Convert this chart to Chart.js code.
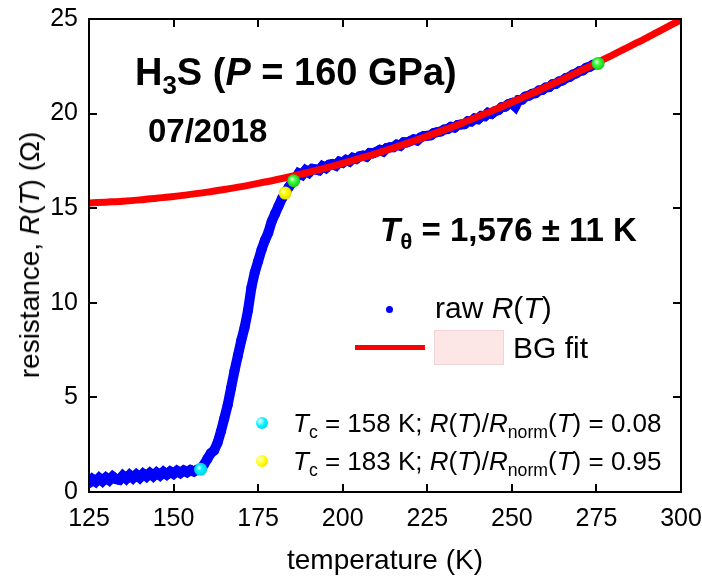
<!DOCTYPE html>
<html>
<head>
<meta charset="utf-8">
<script src="https://cdn.jsdelivr.net/npm/chart.js@4.4.1/dist/chart.umd.min.js"></script>
<style>
  body { margin: 0; background: #fff; }
  #wrap { position: relative; width: 702px; height: 581px; font-family: 'Liberation Sans', Arial, sans-serif; color: #000; }
  #wrap canvas { position: absolute; left: 0; top: 0; }
  .lbl { position: absolute; white-space: nowrap; line-height: 1; }
  .bold { font-weight: bold; }
  sub { font-size: 0.68em; vertical-align: -0.35em; line-height: 0; }
  .ball { position: absolute; border-radius: 50%; }
</style>
</head>
<body>
<div id="wrap">
  <canvas id="rtChart" width="702" height="581"></canvas>

  <div class="lbl bold" style="left:135px; top:53px; font-size:38px;">H<sub>3</sub>S (<i>P</i> = 160 GPa)</div>
  <div class="lbl bold" style="left:148px; top:114px; font-size:33px;">07/2018</div>
  <div class="lbl bold" style="left:380px; top:213px; font-size:33px;"><i>T</i><sub>θ</sub> = 1,576 ± 11 K</div>

  <!-- legend: raw data / fit -->
  <div class="ball" style="left:386px; top:306px; width:7px; height:7px; background:#0000ff;"></div>
  <div class="lbl" style="left:435px; top:293px; font-size:30px;">raw <i>R</i>(<i>T</i>)</div>
  <div style="position:absolute; left:355px; top:345px; width:70px; height:5px; background:#ff0000;"></div>
  <div style="position:absolute; left:434px; top:330px; width:68px; height:33px; background:#fde6e6; border:1px solid #f3d4d4;"></div>
  <div class="lbl" style="left:513px; top:333px; font-size:30px;">BG fit</div>

  <!-- legend: Tc markers -->
  <div class="ball" style="left:256px; top:417px; width:12px; height:12px; background:radial-gradient(circle at 35% 35%, #e8ffff, #00f0ff 45%, #00c8e0);"></div>
  <div class="lbl" style="left:293px; top:410px; font-size:26px;"><i>T</i><sub>c</sub> = 158 K; <i>R</i>(<i>T</i>)/<i>R</i><sub>norm</sub>(<i>T</i>) = 0.08</div>
  <div class="ball" style="left:256px; top:455px; width:12px; height:12px; background:radial-gradient(circle at 35% 35%, #ffffe0, #ffff00 45%, #e0d800);"></div>
  <div class="lbl" style="left:293px; top:448px; font-size:26px;"><i>T</i><sub>c</sub> = 183 K; <i>R</i>(<i>T</i>)/<i>R</i><sub>norm</sub>(<i>T</i>) = 0.95</div>

  <!-- axis titles -->
  <div class="lbl" style="left:385px; top:546px; font-size:28px; transform:translateX(-50%);">temperature (K)</div>
  <div class="lbl" style="left:30px; top:255px; font-size:28px; transform:translate(-50%,-50%) rotate(-90deg);">resistance, <i>R</i>(<i>T</i>) (Ω)</div>
</div>

<script>
// Raw R(T) data (K, Ohm)
const rawT = [
  125,126,127,128,129,130,131,132,133,134,135,136,137,138,139,140,141,142,143,144,
  145,146,147,148,149,150,151,152,153,154,155,156,157,158,
  159,160,161,162,163,164,165,166,167,168,169,170,171,172,173,174,175,176,177,178,
  179,180,181,182,183,184,185,186,
  187,188,189,190,191,192,193,194,195,196,197,198,199,200,201,202,203,204,205,206,
  207,208,209,210,211,212,213,214,215,216,217,218,219,220,221,222,223,224,225,226,
  227,228,229,230,231,232,233,234,235,236,237,238,239,240,241,242,243,244,245,246,
  247,248,249,250,251,252,253,254,255,256,257,258,259,260,261,262,263,264,265,266,
  267,268,269,270,271,272,273,274,275
];
const rawR = [
  0.46,0.68,0.54,0.74,0.58,0.76,0.62,0.82,0.68,0.64,0.86,0.70,0.90,0.74,0.92,0.76,0.96,0.82,1.00,0.84,
  1.02,0.88,1.06,0.92,1.08,0.96,1.12,1.00,1.14,1.04,1.16,1.08,1.18,1.20,
  1.45,1.75,2.05,2.20,2.60,3.20,3.90,4.60,5.50,6.40,7.20,8.00,8.70,9.60,10.8,11.6,12.2,12.8,13.3,13.7,
  14.3,14.7,15.1,15.5,15.8,16.1,16.35,16.55,
  16.85,16.76,17.00,16.88,17.08,17.05,17.00,17.22,17.12,17.30,17.34,17.25,17.46,17.40,17.55,17.47,17.66,17.60,17.74,17.78,
  17.72,17.92,17.90,17.98,18.08,18.00,18.18,18.22,18.22,18.36,18.30,18.48,18.47,18.55,18.64,18.58,18.74,18.82,18.83,18.85,
  18.98,19.02,19.05,19.16,19.18,19.30,19.26,19.40,19.42,19.44,19.60,19.58,19.74,19.70,19.88,19.86,20.04,19.98,20.12,20.18,
  20.34,20.36,20.50,20.56,20.38,20.72,20.74,20.90,20.94,21.05,21.08,21.22,21.25,21.38,21.40,21.55,21.57,21.70,21.75,21.88,
  21.93,22.06,22.12,22.24,22.28,22.42,22.47,22.58,22.62
];

// Bloch-Grüneisen fit curve
const fitT = [125,130,135,140,145,150,155,160,165,170,175,180,185,190,195,200,205,210,215,220,
              225,230,235,240,245,250,255,260,265,270,275,280,285,290,295,300];
const fitR = [15.27,15.32,15.37,15.44,15.53,15.62,15.73,15.85,15.99,16.14,16.31,16.49,16.69,16.90,17.13,17.37,17.63,17.90,18.19,18.49,
              18.81,19.14,19.48,19.84,20.21,20.60,20.99,21.40,21.81,22.24,22.67,23.12,23.57,24.02,24.49,24.96];

// Marked points
const tcLowPoint  = [{ x: 158, y: 1.2 }];
const tcHighPoint = [{ x: 183, y: 15.8 }];
const fitRangePoints = [{ x: 185.5, y: 16.45 }, { x: 275.5, y: 22.65 }];

// Axis ticks
const xTicks = [125, 150, 175, 200, 225, 250, 275, 300];
const yTicks = [0, 5, 10, 15, 20, 25];

const FONT = "'Liberation Sans', Arial, sans-serif";

// shaded ball look for the marker points
function ballColor(edge, mid) {
  return function(context) {
    const chart = context.chart;
    const p = context.raw;
    if (!p || !chart.chartArea) return mid;
    const x = chart.scales.x.getPixelForValue(p.x);
    const y = chart.scales.y.getPixelForValue(p.y);
    const g = chart.ctx.createRadialGradient(x - 2, y - 2, 0, x, y, 7);
    g.addColorStop(0, '#ffffff');
    g.addColorStop(0.4, mid);
    g.addColorStop(1, edge);
    return g;
  };
}

// Frame with inward ticks on all four sides
const framePlugin = {
  id: 'frame',
  afterDraw(chart) {
    const { ctx, chartArea: a, scales } = chart;
    const len = 8;
    ctx.save();
    ctx.strokeStyle = '#000';
    ctx.lineWidth = 2;
    ctx.beginPath();
    xTicks.slice(1, -1).forEach(v => {
      const x = Math.round(scales.x.getPixelForValue(v));
      ctx.moveTo(x, a.bottom); ctx.lineTo(x, a.bottom - len);
      ctx.moveTo(x, a.top); ctx.lineTo(x, a.top + len);
    });
    yTicks.slice(1, -1).forEach(v => {
      const y = Math.round(scales.y.getPixelForValue(v));
      ctx.moveTo(a.left, y); ctx.lineTo(a.left + len, y);
      ctx.moveTo(a.right, y); ctx.lineTo(a.right - len, y);
    });
    ctx.stroke();
    ctx.strokeRect(a.left, a.top, a.right - a.left, a.bottom - a.top);
    ctx.restore();
  }
};

document.addEventListener('DOMContentLoaded', function() {
  const ctx = document.getElementById('rtChart').getContext('2d');

  new Chart(ctx, {
    type: 'scatter',
    data: {
      datasets: [
        {
          label: 'Tc 0.08',
          data: tcLowPoint,
          pointRadius: 6.5,
          pointBorderWidth: 0,
          pointBackgroundColor: ballColor('#00c8e0', '#00f4ff'),
          order: 0
        },
        {
          label: 'Tc 0.95',
          data: tcHighPoint,
          pointRadius: 6.5,
          pointBorderWidth: 0,
          pointBackgroundColor: ballColor('#e0d800', '#ffff00'),
          order: 0
        },
        {
          label: 'fit range',
          data: fitRangePoints,
          pointRadius: 6.5,
          pointBorderWidth: 0,
          pointBackgroundColor: ballColor('#10c010', '#40ff40'),
          order: 0
        },
        {
          label: 'BG fit',
          data: fitT.map((t, i) => ({ x: t, y: fitR[i] })),
          showLine: true,
          borderColor: '#ff0000',
          borderWidth: 7,
          pointRadius: 0,
          cubicInterpolationMode: 'monotone',
          order: 1
        },
        {
          label: 'raw R(T)',
          data: rawT.map((t, i) => ({ x: t, y: rawR[i] })),
          showLine: true,
          borderColor: '#0000ff',
          borderWidth: 10,
          backgroundColor: '#0000ff',
          pointRadius: 5,
          pointBorderWidth: 0,
          order: 2
        }
      ]
    },
    options: {
      responsive: false,
      devicePixelRatio: 1,
      animation: false,
      layout: { padding: { top: 19, right: 21, left: 0, bottom: 0 } },
      scales: {
        x: {
          type: 'linear',
          min: 125,
          max: 300,
          grid: { display: false, drawTicks: false },
          border: { display: false },
          afterBuildTicks: scale => { scale.ticks = xTicks.map(v => ({ value: v })); },
          afterFit: scale => {
            scale.height = 89;
            scale.paddingLeft = 0;
            scale.paddingRight = 0;
          },
          ticks: {
            padding: 12,
            color: '#000',
            font: { family: FONT, size: 25 }
          }
        },
        y: {
          type: 'linear',
          min: 0,
          max: 25,
          grid: { display: false, drawTicks: false },
          border: { display: false },
          afterBuildTicks: scale => { scale.ticks = yTicks.map(v => ({ value: v })); },
          afterFit: scale => {
            scale.width = 89;
            scale.paddingTop = 0;
            scale.paddingBottom = 0;
          },
          ticks: {
            padding: 11,
            color: '#000',
            font: { family: FONT, size: 25 }
          }
        }
      },
      plugins: {
        legend: { display: false },
        tooltip: { enabled: false }
      }
    },
    plugins: [framePlugin]
  });
});
</script>
</body>
</html>
